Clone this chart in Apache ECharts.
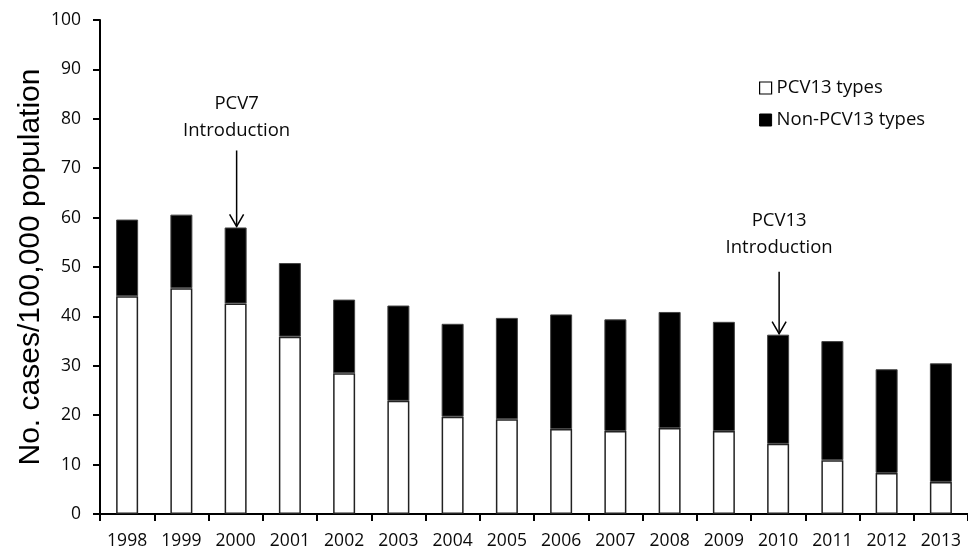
<!DOCTYPE html>
<html>
<head>
<meta charset="utf-8">
<script src="https://cdn.jsdelivr.net/npm/echarts@6/dist/echarts.min.js"></script>
<style>
html,body{margin:0;padding:0;background:#fff;}
#chart{width:968px;height:550px;}
</style>
</head>
<body>
<div id="chart"></div>
<script>
// ---- data ----
var years = ['1998','1999','2000','2001','2002','2003','2004','2005','2006','2007','2008','2009','2010','2011','2012','2013'];
var pcv13Types = [44.1, 45.7, 42.6, 35.9, 28.5, 22.9, 19.7, 19.2, 17.2, 16.8, 17.4, 16.8, 14.2, 10.9, 8.3, 6.5];
var nonPcv13Types = [15.5, 14.9, 15.4, 14.9, 14.9, 19.3, 18.8, 20.5, 23.2, 22.6, 23.5, 22.1, 22.1, 24.1, 21.0, 24.0];
var yTicks = [0, 10, 20, 30, 40, 50, 60, 70, 80, 90, 100];
var seriesNames = ['PCV13 types', 'Non-PCV13 types'];
var annotationYears = ['2000', '2010'];
var annotationTexts = ['PCV7\nIntroduction', 'PCV13\nIntroduction'];

// ---- styles ----
var FONT = '"Open Sans", Lato, sans-serif';
var annotationLayout = [
  { arrowLen: 76, textGap: 6 },
  { arrowLen: 62, textGap: 10 }
];

var chart = echarts.init(document.getElementById('chart'));
var option = {
  animation: false,
  backgroundColor: '#fff',
  grid: { left: 100, top: 20, width: 872, height: 497 },
  legend: {
    orient: 'vertical',
    left: 759, top: 78,
    padding: 0,
    itemWidth: 12, itemHeight: 12, itemGap: 12,
    icon: 'rect',
    textStyle: { fontFamily: FONT, fontSize: 18.5, color: '#0a0a0a', lineHeight: 20 },
    data: [
      { name: seriesNames[0], itemStyle: { color: '#fff', borderColor: '#000', borderWidth: 1.2 } },
      { name: seriesNames[1], itemStyle: { color: '#000', borderColor: '#000', borderWidth: 1 } }
    ]
  },
  xAxis: {
    type: 'category',
    data: years,
    axisLine: { lineStyle: { color: '#000', width: 2 } },
    axisTick: { show: true, length: 7, lineStyle: { color: '#000', width: 2 } },
    axisLabel: { fontFamily: FONT, fontSize: 17.5, color: '#0a0a0a', margin: 18, interval: 0 }
  },
  yAxis: {
    type: 'value',
    min: yTicks[0], max: yTicks[yTicks.length - 1], interval: yTicks[1] - yTicks[0],
    name: 'No. cases/100,000 population',
    nameLocation: 'middle',
    nameGap: 54,
    nameMoveOverlap: false,
    nameTextStyle: { fontFamily: '"Liberation Sans", Arial, sans-serif', fontSize: 30, color: '#000' },
    splitLine: { show: false },
    axisLine: { show: true, lineStyle: { color: '#000', width: 2 } },
    axisTick: { show: true, length: 7, lineStyle: { color: '#000', width: 2 } },
    axisLabel: { fontFamily: FONT, fontSize: 17.5, color: '#0a0a0a', margin: 19 }
  },
  series: [
    {
      name: seriesNames[0], type: 'bar', stack: 'total', barWidth: 22,
      data: pcv13Types,
      itemStyle: { color: '#fff', borderColor: '#222', borderWidth: 1.5 }
    },
    {
      name: seriesNames[1], type: 'bar', stack: 'total', barWidth: 22,
      data: nonPcv13Types,
      itemStyle: { color: '#000', borderColor: '#444', borderWidth: 1 }
    }
  ]
};
chart.setOption(option);

// ---- annotations positioned through the chart's own scales ----
var graphics = [];
annotationYears.forEach(function (yr, i) {
  var idx = years.indexOf(yr);
  var total = pcv13Types[idx] + nonPcv13Types[idx];
  var p = chart.convertToPixel({ gridIndex: 0 }, [yr, total]);
  var tipX = p[0] + 1, tipY = p[1] - 1;
  var lay = annotationLayout[i];
  var topY = tipY - lay.arrowLen;
  graphics.push({
    type: 'line', shape: { x1: tipX, y1: topY, x2: tipX, y2: tipY },
    style: { stroke: '#000', lineWidth: 1.5 }
  });
  graphics.push({
    type: 'polyline', shape: { points: [[tipX - 7, tipY - 12], [tipX, tipY], [tipX + 7, tipY - 12]] },
    style: { stroke: '#000', lineWidth: 1.5, fill: null }
  });
  graphics.push({
    type: 'text', x: tipX, y: topY - lay.textGap,
    style: {
      text: annotationTexts[i], fontFamily: FONT, fontSize: 18.5, lineHeight: 27,
      fill: '#0a0a0a', align: 'center', verticalAlign: 'bottom'
    }
  });
});
chart.setOption({ graphic: graphics });
</script>
</body>
</html>
